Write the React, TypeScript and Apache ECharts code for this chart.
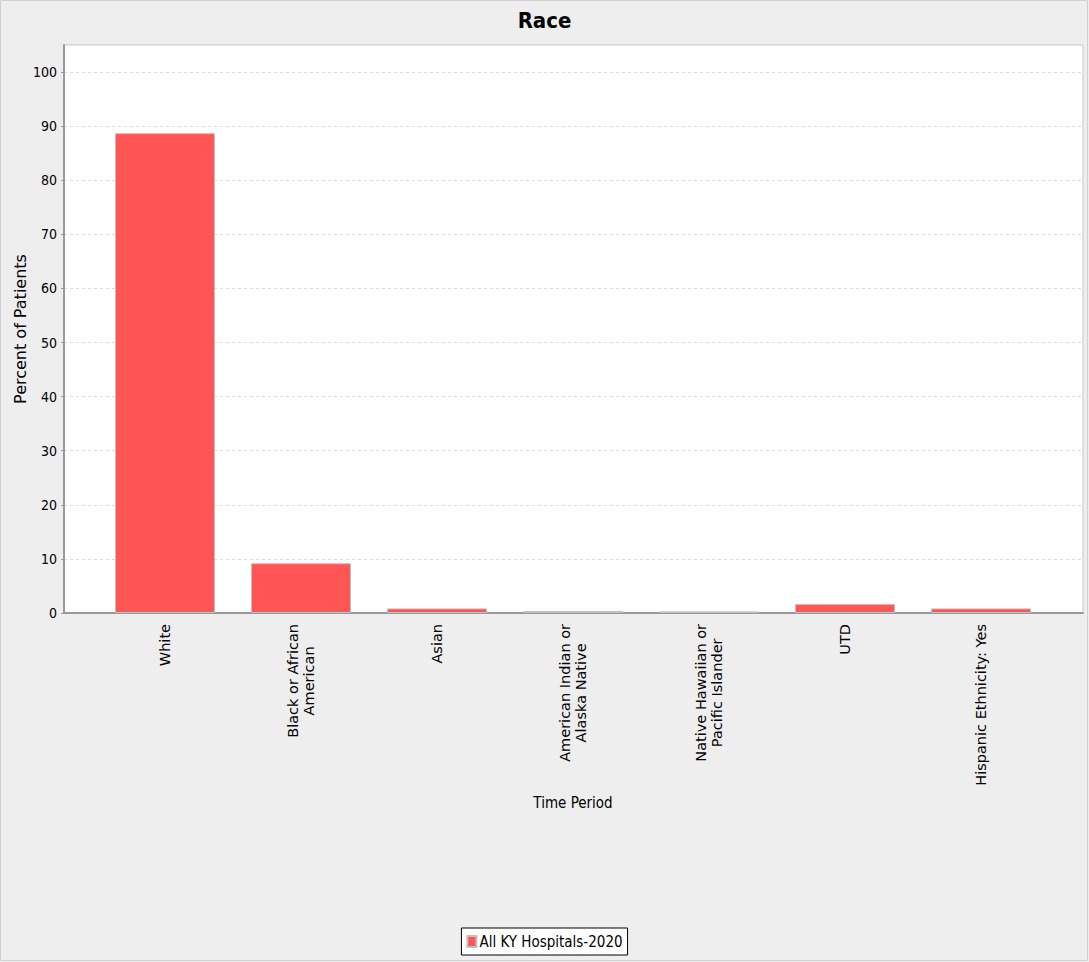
import React, { useEffect, useRef } from "react";
import * as echarts from "echarts";

const categories = [
  "White",
  "Black or African\nAmerican",
  "Asian",
  "American Indian or\nAlaska Native",
  "Native Hawaiian or\nPacific Islander",
  "UTD",
  "Hispanic Ethnicity: Yes",
];
const seriesName = "All KY Hospitals-2020";
const values = [88.7, 9.2, 0.85, 0.35, 0.3, 1.65, 0.85];
const yTicks = [0, 10, 20, 30, 40, 50, 60, 70, 80, 90, 100];

const COND = "'DejaVu Sans Condensed', 'DejaVu Sans', sans-serif";
const SANS = "'DejaVu Sans', sans-serif";

export default function App() {
  const ref = useRef<HTMLDivElement>(null);
  useEffect(() => {
    if (!ref.current) return;
    const chart = echarts.init(ref.current, null, { renderer: "svg" });
    chart.setOption({
      animation: false,
      backgroundColor: "#eeeeee",
      title: {
        text: "Race",
        left: "center",
        top: 4,
        textStyle: { fontFamily: COND, fontSize: 22, fontWeight: "bold", color: "#000" },
      },
      graphic: [
        {
          type: "rect",
          shape: { x: 0.5, y: 0.5, width: 1087, height: 960 },
          style: { fill: "none", stroke: "#d0d0d0", lineWidth: 1 },
          silent: true,
        },
      ],
      legend: {
        data: [seriesName],
        left: "center",
        top: 928,
        icon: "rect",
        itemWidth: 9,
        itemHeight: 11,
        itemGap: 4,
        padding: [6, 5, 6, 5],
        borderColor: "#000",
        borderWidth: 1,
        borderRadius: 0,
        backgroundColor: "#fff",
        textStyle: { fontFamily: COND, fontSize: 15, color: "#000", padding: [0, 0, 0, -2] },
      },
      grid: [
        {
          left: 64,
          top: 45,
          width: 1019,
          height: 568,
          show: true,
          containLabel: false,
          outerBoundsMode: "none",
          backgroundColor: "#ffffff",
          borderColor: "#c8c8c8",
          borderWidth: 1,
        },
        {
          left: 97,
          top: 45,
          width: 952,
          height: 568,
          containLabel: false,
          outerBoundsMode: "none",
        },
      ],
      xAxis: [
        {
          gridIndex: 0,
          type: "category",
          data: categories,
          axisLine: { show: true, lineStyle: { color: "#999", width: 2 } },
          axisTick: { show: false },
          axisLabel: { show: false },
        },
        {
          gridIndex: 1,
          type: "category",
          data: categories,
          axisLine: { show: false },
          axisTick: { show: false },
          axisLabel: {
            rotate: 90,
            margin: 11,
            interval: 0,
            fontFamily: SANS,
            fontSize: 14.5,
            color: "#000",
            lineHeight: 16,
            formatter: (v: string) =>
              v
                .split("\n")
                .map((s) => "{c|" + s + "}")
                .join("\n"),
            rich: {
              c: { align: "center", fontFamily: SANS, fontSize: 14.5, color: "#000", lineHeight: 16 },
            },
          },
          name: "Time Period",
          nameLocation: "middle",
          nameGap: 182,
          nameMoveOverlap: false,
          nameTextStyle: { fontFamily: COND, fontSize: 15, color: "#000" },
        },
      ],
      yAxis: [
        {
          gridIndex: 0,
          type: "value",
          min: 0,
          max: 105,
          interval: 10,
          axisLine: { show: true, lineStyle: { color: "#999", width: 2 } },
          axisTick: { show: true, length: 3, lineStyle: { color: "#999" }, customValues: yTicks },
          axisLabel: {
            fontFamily: COND,
            fontSize: 14,
            color: "#000",
            margin: 7,
            customValues: yTicks,
          },
          splitLine: {
            show: true,
            lineStyle: { color: "#dcdcdc", type: [3, 3], width: 1 },
          },
          name: "Percent of Patients",
          nameLocation: "middle",
          nameGap: 44,
          nameMoveOverlap: false,
          nameTextStyle: { fontFamily: SANS, fontSize: 16, color: "#000", verticalAlign: "middle" },
        },
        {
          gridIndex: 1,
          type: "value",
          min: 0,
          max: 105,
          interval: 10,
          show: false,
        },
      ],
      series: [
        {
          name: seriesName,
          type: "bar",
          xAxisIndex: 1,
          yAxisIndex: 1,
          data: values,
          barWidth: 100,
          z: 5,
          itemStyle: { color: "#ff5555", borderColor: "#c0c0c0", borderWidth: 1 },
        },
        {
          type: "line",
          xAxisIndex: 0,
          yAxisIndex: 0,
          data: [],
        },
      ],
    });
    return () => chart.dispose();
  }, []);
  return (
    <div
      ref={ref}
      style={{ position: "fixed", left: 0, top: 0, width: 1089, height: 962 }}
    />
  );
}
